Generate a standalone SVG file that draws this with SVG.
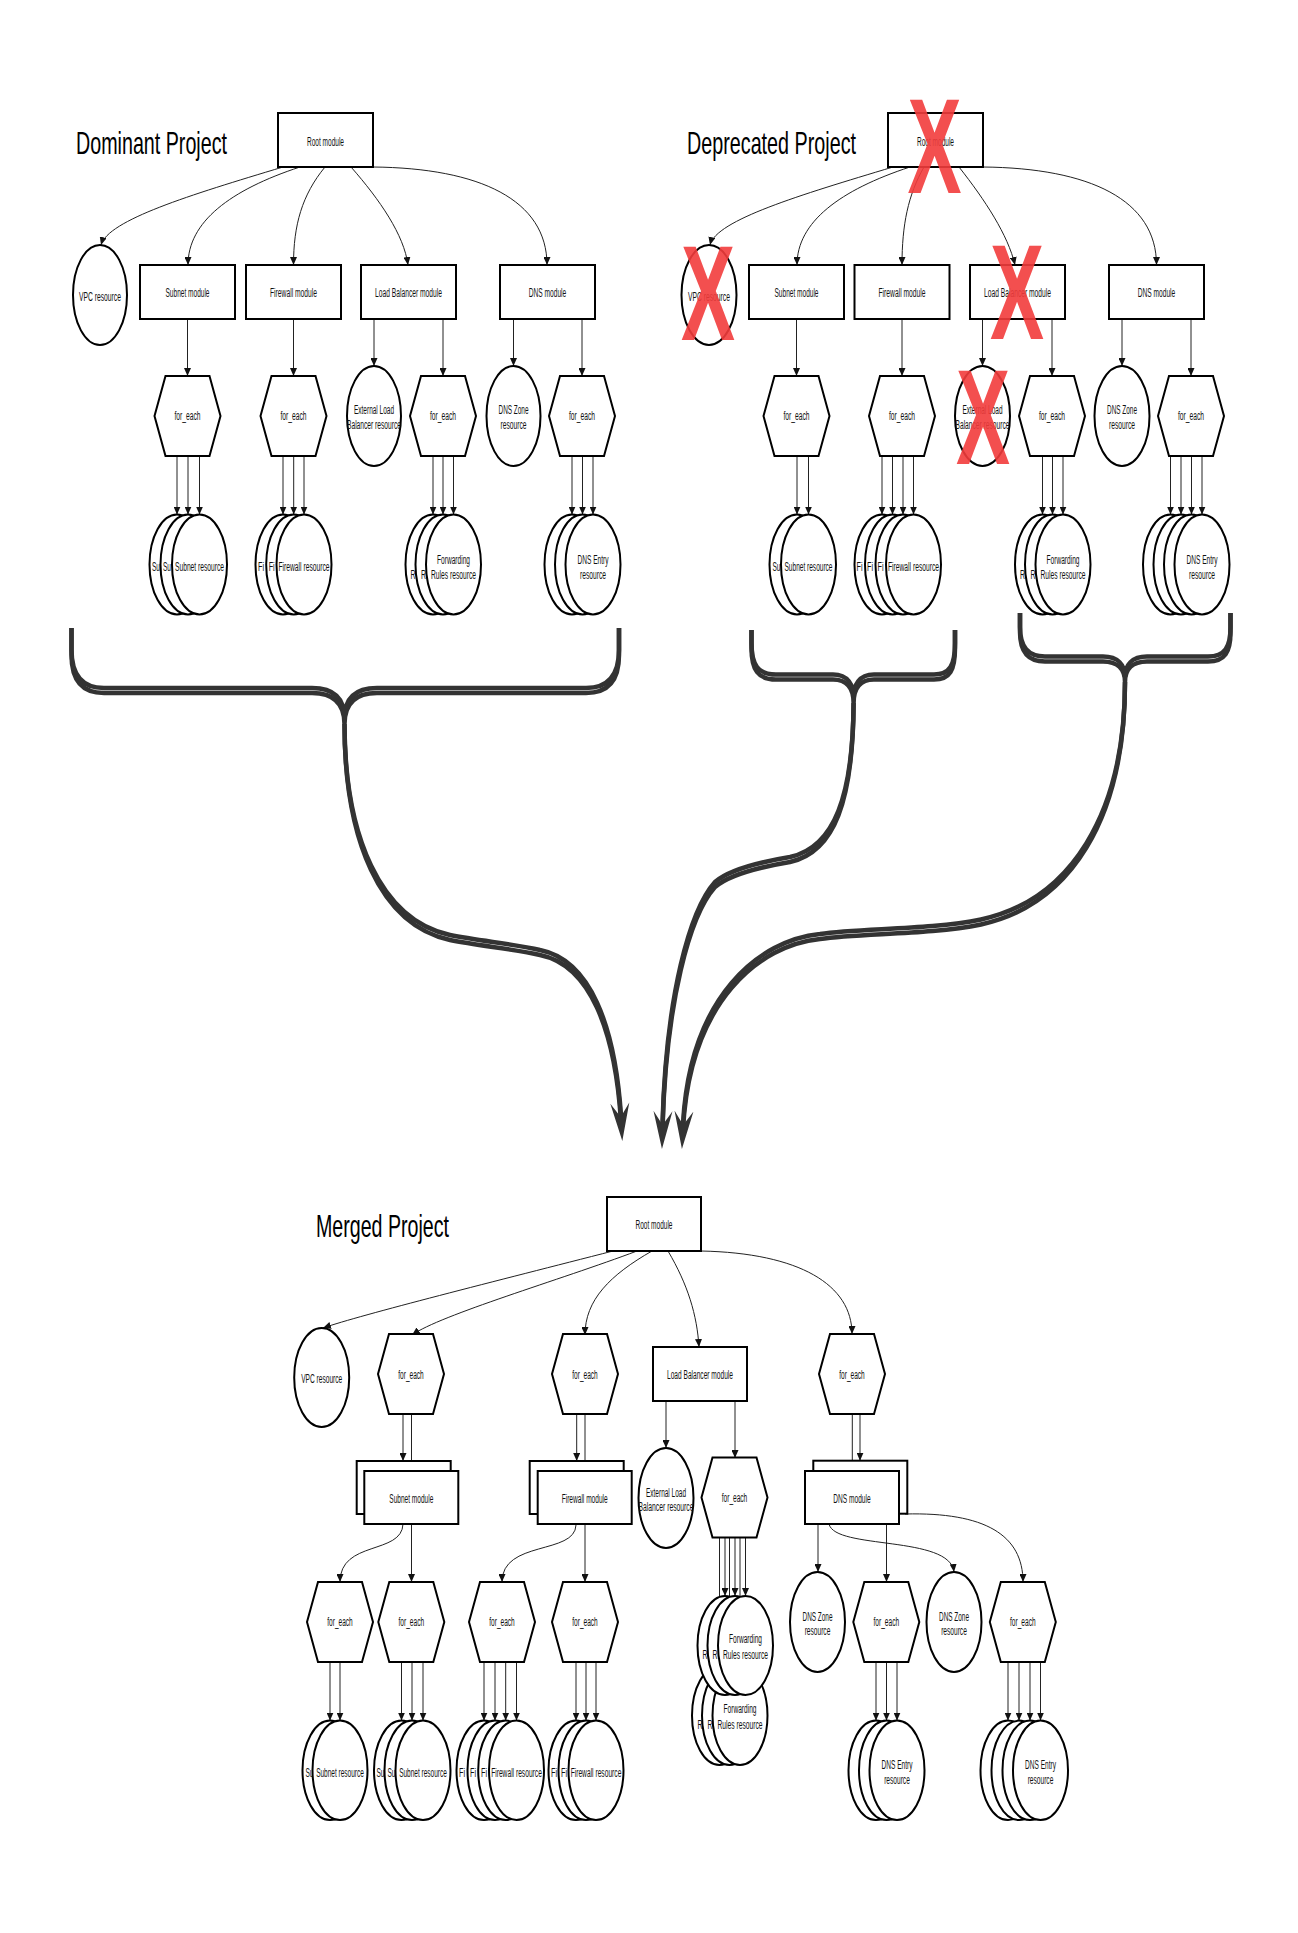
<svg xmlns="http://www.w3.org/2000/svg" width="1298" height="1933" viewBox="0 0 1298 1933">
<defs>
<style>
.n{fill:#fff;stroke:#000;stroke-width:2}
.t{font-family:"Liberation Sans",Arial,sans-serif;font-size:12px;fill:#111;text-anchor:middle}
.f{text-anchor:start}
.h{font-family:"Liberation Sans",Arial,sans-serif;font-size:32px;fill:#000}
.e{fill:none;stroke:#222;stroke-width:1;marker-end:url(#a)}
.b{fill:none;stroke:#333;stroke-width:4.5}
.m{marker-end:url(#big)}
.x{font-family:"Liberation Sans",Arial,sans-serif;font-weight:bold;font-size:136px;fill:#f23c3c;fill-opacity:.9;text-anchor:middle}
</style>
<marker id="a" viewBox="0 0 8 7" refX="8" refY="3.5" markerWidth="8" markerHeight="7" markerUnits="userSpaceOnUse" orient="auto"><path d="M0,0 L8,3.5 L0,7 z" fill="#111"/></marker>
<marker id="big" viewBox="0 0 38 20" refX="18" refY="10" markerWidth="38" markerHeight="20" markerUnits="userSpaceOnUse" orient="auto"><path d="M0,0.5 L38,10 L0,19.5 L14,10 z" fill="#333"/></marker>
<polygon id="hx" points="-22,-40 22,-40 33,0 22,40 -22,40 -33,0"/>
</defs>
<rect width="1298" height="1933" fill="#fff"/>

<g id="connectors">
<!-- Dominant -->
<path class="e" d="M283 167 C190 195 108 220 101 245"/>
<path class="e" d="M300 167 C230 190 188 222 188 265"/>
<path class="e" d="M325 167 C302 195 293.5 225 293.5 265"/>
<path class="e" d="M351 167 C380 200 404 235 408 265"/>
<path class="e" d="M373 167 C480 168 547 200 547 265"/>
<path class="e" d="M187.5 319 V376"/>
<path class="e" d="M293.5 319 V376"/>
<path class="e" d="M374 319 V366"/>
<path class="e" d="M443 319 V376"/>
<path class="e" d="M513.5 319 V366"/>
<path class="e" d="M582 319 V376"/>
<path class="e" d="M177 456 V514.5"/><path class="e" d="M188 456 V514.5"/><path class="e" d="M199.5 456 V514.5"/>
<path class="e" d="M283 456 V514.5"/><path class="e" d="M293.7 456 V514.5"/><path class="e" d="M304 456 V514.5"/>
<path class="e" d="M433 456 V514.5"/><path class="e" d="M443 456 V514.5"/><path class="e" d="M453.5 456 V514.5"/>
<path class="e" d="M572 456 V514.5"/><path class="e" d="M582.5 456 V514.5"/><path class="e" d="M593 456 V514.5"/>
<!-- Deprecated -->
<path class="e" d="M893 167 C800 195 716 220 710 245"/>
<path class="e" d="M910 167 C840 190 797 222 797 265"/>
<path class="e" d="M924 167 C908 195 902 225 902 265"/>
<path class="e" d="M959 167 C985 200 1008 235 1015 265"/>
<path class="e" d="M983 167 C1090 168 1156.5 200 1156.5 265"/>
<path class="e" d="M796.5 319 V376"/>
<path class="e" d="M902 319 V376"/>
<path class="e" d="M982.5 319 V366"/>
<path class="e" d="M1052 319 V376"/>
<path class="e" d="M1122 319 V366"/>
<path class="e" d="M1191 319 V376"/>
<path class="e" d="M797 456 V514.5"/><path class="e" d="M808.5 456 V514.5"/>
<path class="e" d="M882 456 V514.5"/><path class="e" d="M892.5 456 V514.5"/><path class="e" d="M903 456 V514.5"/><path class="e" d="M913.5 456 V514.5"/>
<path class="e" d="M1042.5 456 V514.5"/><path class="e" d="M1052.5 456 V514.5"/><path class="e" d="M1063 456 V514.5"/>
<path class="e" d="M1170.5 456 V514.5"/><path class="e" d="M1181 456 V514.5"/><path class="e" d="M1191.5 456 V514.5"/><path class="e" d="M1202 456 V514.5"/>
<!-- Merged -->
<path class="e" d="M613 1251 C500 1280 360 1315 323 1328"/>
<path class="e" d="M637 1251 C560 1280 440 1315 412 1335"/>
<path class="e" d="M652 1251 C610 1275 585 1300 585 1335"/>
<path class="e" d="M668 1251 C688 1285 697 1315 699 1347"/>
<path class="e" d="M701 1251 C800 1253 852 1285 852 1334"/>
<path class="e" d="M403 1413 V1461"/><path class="e" d="M411.5 1413 V1471"/>
<path class="e" d="M576.7 1413 V1461"/><path class="e" d="M585 1413 V1471"/>
<path class="e" d="M666 1401 V1448"/>
<path class="e" d="M735 1401 V1458"/>
<path class="e" d="M852.3 1413 V1471"/><path class="e" d="M860 1413 V1460.7"/>
<path class="e" d="M403 1524 C402 1555 340 1540 340 1582"/>
<path class="e" d="M411.5 1524 V1582"/>
<path class="e" d="M576 1525 C575 1555 502 1540 502 1582"/>
<path class="e" d="M585 1525 V1582"/>
<path class="e" d="M725 1537 V1596"/><path class="e" d="M735 1537 V1596"/><path class="e" d="M745.5 1537 V1596"/>
<path class="e" d="M719.5 1537 V1666"/><path class="e" d="M729.5 1537 V1666"/><path class="e" d="M740 1537 V1666"/>
<path class="e" d="M818 1524 V1572"/>
<path class="e" d="M886.5 1524 V1582"/>
<path class="e" d="M829 1524 C835 1550 950 1535 954 1572"/>
<path class="e" d="M905 1514 C985 1512 1023 1535 1023 1582"/>
<path class="e" d="M330 1662 V1720.6"/><path class="e" d="M340 1662 V1720.6"/>
<path class="e" d="M401.5 1662 V1720.6"/><path class="e" d="M412 1662 V1720.6"/><path class="e" d="M423 1662 V1720.6"/>
<path class="e" d="M484 1662 V1720.6"/><path class="e" d="M495 1662 V1720.6"/><path class="e" d="M505.7 1662 V1720.6"/><path class="e" d="M516.5 1662 V1720.6"/>
<path class="e" d="M576 1662 V1720.6"/><path class="e" d="M586 1662 V1720.6"/><path class="e" d="M596 1662 V1720.6"/>
<path class="e" d="M876 1662 V1720.6"/><path class="e" d="M886.5 1662 V1720.6"/><path class="e" d="M897 1662 V1720.6"/>
<path class="e" d="M1008 1662 V1720.6"/><path class="e" d="M1019 1662 V1720.6"/><path class="e" d="M1030 1662 V1720.6"/><path class="e" d="M1040.5 1662 V1720.6"/>
</g>

<g id="merge-arrows">
<path class="b" d="M71.5 628 V655 C71.5 680 82 693 104 693 L312 693 C335 693 344.5 705 344.5 724 C344.5 705 354 693 377 693 L586 693 C608 693 619 680 619 655 V628"/>
<path class="b" transform="translate(0,-5)" d="M71.5 633 V655 C71.5 680 82 693 104 693 L312 693 C335 693 344.5 705 344.5 724 C344.5 705 354 693 377 693 L586 693 C608 693 619 680 619 655 V633"/>
<path class="b" d="M751.5 630 V648 C751.5 670 758 679.5 776 679.5 L833 679.5 C848 679.5 853.6 690 853.6 703 C853.6 690 859 679.5 874 679.5 L934 679.5 C950 679.5 955 670 955 648 V630"/>
<path class="b" transform="translate(0,-5)" d="M751.5 635 V648 C751.5 670 758 679.5 776 679.5 L833 679.5 C848 679.5 853.6 690 853.6 703 C853.6 690 859 679.5 874 679.5 L934 679.5 C950 679.5 955 670 955 648 V635"/>
<path class="b" d="M1020 613 V632 C1020 652 1028 661.5 1045 661.5 L1103 661.5 C1118 661.5 1125 670 1125 682 C1125 670 1132 661.5 1147 661.5 L1208 661.5 C1225 661.5 1230.5 652 1230.5 632 V613"/>
<path class="b" transform="translate(0,-5)" d="M1020 618 V632 C1020 652 1028 661.5 1045 661.5 L1103 661.5 C1118 661.5 1125 670 1125 682 C1125 670 1132 661.5 1147 661.5 L1208 661.5 C1225 661.5 1230.5 652 1230.5 632 V618"/>
<path class="b m" d="M344.5 724 C344.5 840 380 925 450 940 C480 946 515 949 540 955 C590 965 615 1030 621 1121"/>
<path class="b" transform="translate(0,-5)" d="M344.5 729 C344.5 840 380 925 450 940 C480 946 515 949 540 955 C590 965 615 1030 621 1121"/>
<path class="b m" d="M853.6 703 C853 800 835 852 790 862 C760 867 730 874 715 887 C690 915 666 1000 662.5 1129"/>
<path class="b" transform="translate(0,-5)" d="M853.6 708 C853 800 835 852 790 862 C760 867 730 874 715 887 C690 915 666 1000 662.5 1129"/>
<path class="b m" d="M1125 682 C1125 820 1070 905 981 924.5 C930 935 860 933 820 939 C760 945 690 1000 683 1129"/>
<path class="b" transform="translate(0,-5)" d="M1125 687 C1125 820 1070 905 981 924.5 C930 935 860 933 820 939 C760 945 690 1000 683 1129"/>
</g>

<!-- ===== Dominant Project ===== -->
<g id="d-title"><text class="h" x="76" y="153.5" textLength="151" lengthAdjust="spacingAndGlyphs">Dominant Project</text></g>
<g id="d-root"><rect class="n" x="278" y="113" width="95" height="54"/><text class="t" x="325.5" y="146" textLength="37" lengthAdjust="spacingAndGlyphs">Root module</text></g>
<g id="d-vpc"><ellipse class="n" cx="100" cy="295" rx="27" ry="50"/><text class="t" x="100" y="300.5" textLength="42" lengthAdjust="spacingAndGlyphs">VPC resource</text></g>
<g id="d-subnet-module"><rect class="n" x="140" y="265" width="95" height="54"/><text class="t" x="187.5" y="296.5" textLength="44" lengthAdjust="spacingAndGlyphs">Subnet module</text></g>
<g id="d-firewall-module"><rect class="n" x="246" y="265" width="95" height="54"/><text class="t" x="293.5" y="296.5" textLength="47" lengthAdjust="spacingAndGlyphs">Firewall module</text></g>
<g id="d-lb-module"><rect class="n" x="361" y="265" width="95" height="54"/><text class="t" x="408.5" y="296.5" textLength="67" lengthAdjust="spacingAndGlyphs">Load Balancer module</text></g>
<g id="d-dns-module"><rect class="n" x="500" y="265" width="95" height="54"/><text class="t" x="547.5" y="296.5" textLength="37.5" lengthAdjust="spacingAndGlyphs">DNS module</text></g>
<g id="d-subnet-foreach"><use href="#hx" class="n" x="187.5" y="416"/><text class="t" x="187.5" y="420" textLength="26" lengthAdjust="spacingAndGlyphs">for_each</text></g>
<g id="d-firewall-foreach"><use href="#hx" class="n" x="293.5" y="416"/><text class="t" x="293.5" y="420" textLength="26" lengthAdjust="spacingAndGlyphs">for_each</text></g>
<g id="d-extlb"><ellipse class="n" cx="374" cy="416" rx="27" ry="50"/><text class="t" x="374" y="414" textLength="40" lengthAdjust="spacingAndGlyphs">External Load</text><text class="t" x="374" y="429" textLength="54" lengthAdjust="spacingAndGlyphs">Balancer resource</text></g>
<g id="d-lb-foreach"><use href="#hx" class="n" x="443" y="416"/><text class="t" x="443" y="420" textLength="26" lengthAdjust="spacingAndGlyphs">for_each</text></g>
<g id="d-dnszone"><ellipse class="n" cx="513.5" cy="416" rx="27" ry="50"/><text class="t" x="513.5" y="414" textLength="30" lengthAdjust="spacingAndGlyphs">DNS Zone</text><text class="t" x="513.5" y="429" textLength="26" lengthAdjust="spacingAndGlyphs">resource</text></g>
<g id="d-dns-foreach"><use href="#hx" class="n" x="582" y="416"/><text class="t" x="582" y="420" textLength="26" lengthAdjust="spacingAndGlyphs">for_each</text></g>
<g id="d-subnet-resources">
<ellipse class="n" cx="177" cy="564.5" rx="27.5" ry="50"/><text class="t f" x="152" y="571" textLength="8" lengthAdjust="spacingAndGlyphs">Su</text>
<ellipse class="n" cx="188" cy="564.5" rx="27.5" ry="50"/><text class="t f" x="163" y="571" textLength="8" lengthAdjust="spacingAndGlyphs">Su</text>
<ellipse class="n" cx="199.5" cy="564.5" rx="27.5" ry="50"/><text class="t" x="199.5" y="571" textLength="49" lengthAdjust="spacingAndGlyphs">Subnet resource</text>
</g>
<g id="d-firewall-resources">
<ellipse class="n" cx="283" cy="564.5" rx="27.5" ry="50"/><text class="t f" x="258" y="571" textLength="6" lengthAdjust="spacingAndGlyphs">Fi</text>
<ellipse class="n" cx="293.7" cy="564.5" rx="27.5" ry="50"/><text class="t f" x="268.7" y="571" textLength="6" lengthAdjust="spacingAndGlyphs">Fi</text>
<ellipse class="n" cx="304" cy="564.5" rx="27.5" ry="50"/><text class="t" x="304" y="571" textLength="51" lengthAdjust="spacingAndGlyphs">Firewall resource</text>
</g>
<g id="d-forwarding-resources">
<ellipse class="n" cx="433" cy="564.5" rx="27.5" ry="50"/><text class="t f" x="410.5" y="579" textLength="5" lengthAdjust="spacingAndGlyphs">R</text>
<ellipse class="n" cx="443" cy="564.5" rx="27.5" ry="50"/><text class="t f" x="421" y="579" textLength="5" lengthAdjust="spacingAndGlyphs">R</text>
<ellipse class="n" cx="453.5" cy="564.5" rx="27.5" ry="50"/><text class="t" x="453.5" y="563.5" textLength="33" lengthAdjust="spacingAndGlyphs">Forwarding</text><text class="t" x="453.5" y="579" textLength="45" lengthAdjust="spacingAndGlyphs">Rules resource</text>
</g>
<g id="d-dnsentry-resources">
<ellipse class="n" cx="572" cy="564.5" rx="27.5" ry="50"/>
<ellipse class="n" cx="582.5" cy="564.5" rx="27.5" ry="50"/>
<ellipse class="n" cx="593" cy="564.5" rx="27.5" ry="50"/><text class="t" x="593" y="563.5" textLength="31" lengthAdjust="spacingAndGlyphs">DNS Entry</text><text class="t" x="593" y="579" textLength="26" lengthAdjust="spacingAndGlyphs">resource</text>
</g>

<!-- ===== Deprecated Project ===== -->
<g id="p-title"><text class="h" x="687" y="153.5" textLength="169" lengthAdjust="spacingAndGlyphs">Deprecated Project</text></g>
<g id="p-root"><rect class="n" x="888" y="113" width="95" height="54"/><text class="t" x="935.5" y="146" textLength="37" lengthAdjust="spacingAndGlyphs">Root module</text></g>
<g id="p-vpc"><ellipse class="n" cx="709" cy="295" rx="27.5" ry="50"/><text class="t" x="709" y="300.5" textLength="42" lengthAdjust="spacingAndGlyphs">VPC resource</text></g>
<g id="p-subnet-module"><rect class="n" x="749" y="265" width="95" height="54"/><text class="t" x="796.5" y="296.5" textLength="44" lengthAdjust="spacingAndGlyphs">Subnet module</text></g>
<g id="p-firewall-module"><rect class="n" x="854.5" y="265" width="95" height="54"/><text class="t" x="902" y="296.5" textLength="47" lengthAdjust="spacingAndGlyphs">Firewall module</text></g>
<g id="p-lb-module"><rect class="n" x="970" y="265" width="95" height="54"/><text class="t" x="1017.5" y="296.5" textLength="67" lengthAdjust="spacingAndGlyphs">Load Balancer module</text></g>
<g id="p-dns-module"><rect class="n" x="1109" y="265" width="95" height="54"/><text class="t" x="1156.5" y="296.5" textLength="37.5" lengthAdjust="spacingAndGlyphs">DNS module</text></g>
<g id="p-subnet-foreach"><use href="#hx" class="n" x="796.5" y="416"/><text class="t" x="796.5" y="420" textLength="26" lengthAdjust="spacingAndGlyphs">for_each</text></g>
<g id="p-firewall-foreach"><use href="#hx" class="n" x="902" y="416"/><text class="t" x="902" y="420" textLength="26" lengthAdjust="spacingAndGlyphs">for_each</text></g>
<g id="p-extlb"><ellipse class="n" cx="982.5" cy="416" rx="27.5" ry="50"/><text class="t" x="982.5" y="414" textLength="40" lengthAdjust="spacingAndGlyphs">External Load</text><text class="t" x="982.5" y="429" textLength="54" lengthAdjust="spacingAndGlyphs">Balancer resource</text></g>
<g id="p-lb-foreach"><use href="#hx" class="n" x="1052" y="416"/><text class="t" x="1052" y="420" textLength="26" lengthAdjust="spacingAndGlyphs">for_each</text></g>
<g id="p-dnszone"><ellipse class="n" cx="1122" cy="416" rx="27.5" ry="50"/><text class="t" x="1122" y="414" textLength="30" lengthAdjust="spacingAndGlyphs">DNS Zone</text><text class="t" x="1122" y="429" textLength="26" lengthAdjust="spacingAndGlyphs">resource</text></g>
<g id="p-dns-foreach"><use href="#hx" class="n" x="1191" y="416"/><text class="t" x="1191" y="420" textLength="26" lengthAdjust="spacingAndGlyphs">for_each</text></g>
<g id="p-subnet-resources">
<ellipse class="n" cx="797" cy="564.5" rx="27.5" ry="50"/><text class="t f" x="772.5" y="571" textLength="8" lengthAdjust="spacingAndGlyphs">Su</text>
<ellipse class="n" cx="808.5" cy="564.5" rx="27.5" ry="50"/><text class="t" x="808.5" y="571" textLength="48" lengthAdjust="spacingAndGlyphs">Subnet resource</text>
</g>
<g id="p-firewall-resources">
<ellipse class="n" cx="882" cy="564.5" rx="27.5" ry="50"/><text class="t f" x="856.5" y="571" textLength="6" lengthAdjust="spacingAndGlyphs">Fi</text>
<ellipse class="n" cx="892.5" cy="564.5" rx="27.5" ry="50"/><text class="t f" x="867" y="571" textLength="6" lengthAdjust="spacingAndGlyphs">Fi</text>
<ellipse class="n" cx="903" cy="564.5" rx="27.5" ry="50"/><text class="t f" x="877.5" y="571" textLength="6" lengthAdjust="spacingAndGlyphs">Fi</text>
<ellipse class="n" cx="913.5" cy="564.5" rx="27.5" ry="50"/><text class="t" x="913.5" y="571" textLength="51" lengthAdjust="spacingAndGlyphs">Firewall resource</text>
</g>
<g id="p-forwarding-resources">
<ellipse class="n" cx="1042.5" cy="564.5" rx="27.5" ry="50"/><text class="t f" x="1020" y="579" textLength="5" lengthAdjust="spacingAndGlyphs">R</text>
<ellipse class="n" cx="1052.5" cy="564.5" rx="27.5" ry="50"/><text class="t f" x="1030.5" y="579" textLength="5" lengthAdjust="spacingAndGlyphs">R</text>
<ellipse class="n" cx="1063" cy="564.5" rx="27.5" ry="50"/><text class="t" x="1063" y="563.5" textLength="33" lengthAdjust="spacingAndGlyphs">Forwarding</text><text class="t" x="1063" y="579" textLength="45" lengthAdjust="spacingAndGlyphs">Rules resource</text>
</g>
<g id="p-dnsentry-resources">
<ellipse class="n" cx="1170.5" cy="564.5" rx="27.5" ry="50"/>
<ellipse class="n" cx="1181" cy="564.5" rx="27.5" ry="50"/>
<ellipse class="n" cx="1191.5" cy="564.5" rx="27.5" ry="50"/>
<ellipse class="n" cx="1202" cy="564.5" rx="27.5" ry="50"/><text class="t" x="1202" y="563.5" textLength="31" lengthAdjust="spacingAndGlyphs">DNS Entry</text><text class="t" x="1202" y="579" textLength="26" lengthAdjust="spacingAndGlyphs">resource</text>
</g>

<!-- ===== Merged Project ===== -->
<g id="m-title"><text class="h" x="316" y="1236.5" textLength="133" lengthAdjust="spacingAndGlyphs">Merged Project</text></g>
<g id="m-root"><rect class="n" x="607" y="1197" width="94" height="54"/><text class="t" x="654" y="1229" textLength="37" lengthAdjust="spacingAndGlyphs">Root module</text></g>
<g id="m-vpc"><ellipse class="n" cx="321.7" cy="1377.5" rx="27.5" ry="49.5"/><text class="t" x="321.7" y="1383" textLength="41" lengthAdjust="spacingAndGlyphs">VPC resource</text></g>
<g id="m-subnet-foreach"><use href="#hx" class="n" x="411" y="1374"/><text class="t" x="411" y="1378.5" textLength="25.5" lengthAdjust="spacingAndGlyphs">for_each</text></g>
<g id="m-firewall-foreach"><use href="#hx" class="n" x="585" y="1374"/><text class="t" x="585" y="1378.5" textLength="25.5" lengthAdjust="spacingAndGlyphs">for_each</text></g>
<g id="m-lb-module"><rect class="n" x="653" y="1347" width="94" height="54"/><text class="t" x="700" y="1379" textLength="66" lengthAdjust="spacingAndGlyphs">Load Balancer module</text></g>
<g id="m-dns-foreach"><use href="#hx" class="n" x="852" y="1374"/><text class="t" x="852" y="1378.5" textLength="25.5" lengthAdjust="spacingAndGlyphs">for_each</text></g>
<g id="m-subnet-module"><rect class="n" x="356.7" y="1461" width="94" height="53"/><rect class="n" x="364.3" y="1471" width="94" height="53"/><text class="t" x="411.3" y="1503" textLength="44" lengthAdjust="spacingAndGlyphs">Subnet module</text></g>
<g id="m-firewall-module"><rect class="n" x="529.7" y="1461" width="94" height="53"/><rect class="n" x="537.7" y="1471" width="94" height="53"/><text class="t" x="584.7" y="1503" textLength="46" lengthAdjust="spacingAndGlyphs">Firewall module</text></g>
<g id="m-extlb"><ellipse class="n" cx="666" cy="1498" rx="27.5" ry="50"/><text class="t" x="666" y="1496.5" textLength="40" lengthAdjust="spacingAndGlyphs">External Load</text><text class="t" x="666" y="1511" textLength="55" lengthAdjust="spacingAndGlyphs">Balancer resource</text></g>
<g id="m-lb-foreach"><use href="#hx" class="n" x="734.5" y="1497.5"/><text class="t" x="734.5" y="1502" textLength="25.5" lengthAdjust="spacingAndGlyphs">for_each</text></g>
<g id="m-dns-module"><rect class="n" x="813.3" y="1460.7" width="94" height="53"/><rect class="n" x="805" y="1471" width="94" height="53"/><text class="t" x="852" y="1503" textLength="37.3" lengthAdjust="spacingAndGlyphs">DNS module</text></g>
<g id="m-subnet-foreach-1"><use href="#hx" class="n" x="340" y="1622"/><text class="t" x="340" y="1626" textLength="25.5" lengthAdjust="spacingAndGlyphs">for_each</text></g>
<g id="m-subnet-foreach-2"><use href="#hx" class="n" x="411.3" y="1622"/><text class="t" x="411.3" y="1626" textLength="25.5" lengthAdjust="spacingAndGlyphs">for_each</text></g>
<g id="m-firewall-foreach-1"><use href="#hx" class="n" x="502" y="1622"/><text class="t" x="502" y="1626" textLength="25.5" lengthAdjust="spacingAndGlyphs">for_each</text></g>
<g id="m-firewall-foreach-2"><use href="#hx" class="n" x="585" y="1622"/><text class="t" x="585" y="1626" textLength="25.5" lengthAdjust="spacingAndGlyphs">for_each</text></g>
<g id="m-forwarding-resources-2">
<ellipse class="n" cx="719.5" cy="1715.5" rx="27.5" ry="49.5"/><text class="t f" x="697.5" y="1729" textLength="5" lengthAdjust="spacingAndGlyphs">R</text>
<ellipse class="n" cx="729.5" cy="1715.5" rx="27.5" ry="49.5"/><text class="t f" x="707.5" y="1729" textLength="5" lengthAdjust="spacingAndGlyphs">R</text>
<ellipse class="n" cx="740" cy="1715.5" rx="27.5" ry="49.5"/><text class="t" x="740" y="1713" textLength="33" lengthAdjust="spacingAndGlyphs">Forwarding</text><text class="t" x="740" y="1729" textLength="45" lengthAdjust="spacingAndGlyphs">Rules resource</text>
</g>
<g id="m-forwarding-resources-1">
<ellipse class="n" cx="725" cy="1645.5" rx="27.5" ry="49.5"/><text class="t f" x="702.5" y="1659" textLength="5" lengthAdjust="spacingAndGlyphs">R</text>
<ellipse class="n" cx="735" cy="1645.5" rx="27.5" ry="49.5"/><text class="t f" x="712.5" y="1659" textLength="5" lengthAdjust="spacingAndGlyphs">R</text>
<ellipse class="n" cx="745.5" cy="1645.5" rx="27.5" ry="49.5"/><text class="t" x="745.5" y="1643" textLength="33" lengthAdjust="spacingAndGlyphs">Forwarding</text><text class="t" x="745.5" y="1659" textLength="45" lengthAdjust="spacingAndGlyphs">Rules resource</text>
</g>
<g id="m-dnszone-1"><ellipse class="n" cx="817.5" cy="1622" rx="27.5" ry="50"/><text class="t" x="817.5" y="1620.5" textLength="30" lengthAdjust="spacingAndGlyphs">DNS Zone</text><text class="t" x="817.5" y="1635" textLength="25.7" lengthAdjust="spacingAndGlyphs">resource</text></g>
<g id="m-dns-foreach-1"><use href="#hx" class="n" x="886.3" y="1622"/><text class="t" x="886.3" y="1626" textLength="25.5" lengthAdjust="spacingAndGlyphs">for_each</text></g>
<g id="m-dnszone-2"><ellipse class="n" cx="954" cy="1622" rx="27.5" ry="50"/><text class="t" x="954" y="1620.5" textLength="30" lengthAdjust="spacingAndGlyphs">DNS Zone</text><text class="t" x="954" y="1635" textLength="25.7" lengthAdjust="spacingAndGlyphs">resource</text></g>
<g id="m-dns-foreach-2"><use href="#hx" class="n" x="1022.8" y="1622"/><text class="t" x="1022.8" y="1626" textLength="25.5" lengthAdjust="spacingAndGlyphs">for_each</text></g>
<g id="m-subnet-resources-1">
<ellipse class="n" cx="330" cy="1770.3" rx="27.5" ry="49.7"/><text class="t f" x="305.5" y="1776.5" textLength="8" lengthAdjust="spacingAndGlyphs">Su</text>
<ellipse class="n" cx="340" cy="1770.3" rx="27.5" ry="49.7"/><text class="t" x="340" y="1776.5" textLength="47.7" lengthAdjust="spacingAndGlyphs">Subnet resource</text>
</g>
<g id="m-subnet-resources-2">
<ellipse class="n" cx="401.5" cy="1770.3" rx="27.5" ry="49.7"/><text class="t f" x="376.5" y="1776.5" textLength="8" lengthAdjust="spacingAndGlyphs">Su</text>
<ellipse class="n" cx="412" cy="1770.3" rx="27.5" ry="49.7"/><text class="t f" x="387.5" y="1776.5" textLength="8" lengthAdjust="spacingAndGlyphs">Su</text>
<ellipse class="n" cx="423" cy="1770.3" rx="27.5" ry="49.7"/><text class="t" x="423" y="1776.5" textLength="47.7" lengthAdjust="spacingAndGlyphs">Subnet resource</text>
</g>
<g id="m-firewall-resources-1">
<ellipse class="n" cx="484" cy="1770.3" rx="27.5" ry="49.7"/><text class="t f" x="459" y="1776.5" textLength="6" lengthAdjust="spacingAndGlyphs">Fi</text>
<ellipse class="n" cx="495" cy="1770.3" rx="27.5" ry="49.7"/><text class="t f" x="470" y="1776.5" textLength="6" lengthAdjust="spacingAndGlyphs">Fi</text>
<ellipse class="n" cx="505.7" cy="1770.3" rx="27.5" ry="49.7"/><text class="t f" x="481" y="1776.5" textLength="6" lengthAdjust="spacingAndGlyphs">Fi</text>
<ellipse class="n" cx="516.5" cy="1770.3" rx="27.5" ry="49.7"/><text class="t" x="516.5" y="1776.5" textLength="50.7" lengthAdjust="spacingAndGlyphs">Firewall resource</text>
</g>
<g id="m-firewall-resources-2">
<ellipse class="n" cx="576" cy="1770.3" rx="27.5" ry="49.7"/><text class="t f" x="551" y="1776.5" textLength="6" lengthAdjust="spacingAndGlyphs">Fi</text>
<ellipse class="n" cx="586" cy="1770.3" rx="27.5" ry="49.7"/><text class="t f" x="561" y="1776.5" textLength="6" lengthAdjust="spacingAndGlyphs">Fi</text>
<ellipse class="n" cx="596" cy="1770.3" rx="27.5" ry="49.7"/><text class="t" x="596" y="1776.5" textLength="50.7" lengthAdjust="spacingAndGlyphs">Firewall resource</text>
</g>
<g id="m-dnsentry-resources-1">
<ellipse class="n" cx="876" cy="1770.3" rx="27.5" ry="49.7"/>
<ellipse class="n" cx="886.5" cy="1770.3" rx="27.5" ry="49.7"/>
<ellipse class="n" cx="897" cy="1770.3" rx="27.5" ry="49.7"/><text class="t" x="897" y="1768.5" textLength="31" lengthAdjust="spacingAndGlyphs">DNS Entry</text><text class="t" x="897" y="1783.5" textLength="25.7" lengthAdjust="spacingAndGlyphs">resource</text>
</g>
<g id="m-dnsentry-resources-2">
<ellipse class="n" cx="1008" cy="1770.3" rx="27.5" ry="49.7"/>
<ellipse class="n" cx="1019" cy="1770.3" rx="27.5" ry="49.7"/>
<ellipse class="n" cx="1030" cy="1770.3" rx="27.5" ry="49.7"/>
<ellipse class="n" cx="1040.5" cy="1770.3" rx="27.5" ry="49.7"/><text class="t" x="1040.5" y="1768.5" textLength="31" lengthAdjust="spacingAndGlyphs">DNS Entry</text><text class="t" x="1040.5" y="1783.5" textLength="25.7" lengthAdjust="spacingAndGlyphs">resource</text>
</g>

<g id="deprecated-marks">
<text class="x" x="934.5" y="192.5" textLength="54" lengthAdjust="spacingAndGlyphs">X</text>
<text class="x" x="708" y="340" textLength="54" lengthAdjust="spacingAndGlyphs">X</text>
<text class="x" x="1017" y="339" textLength="54" lengthAdjust="spacingAndGlyphs">X</text>
<text class="x" x="983" y="464" textLength="54" lengthAdjust="spacingAndGlyphs">X</text>
</g>
</svg>
